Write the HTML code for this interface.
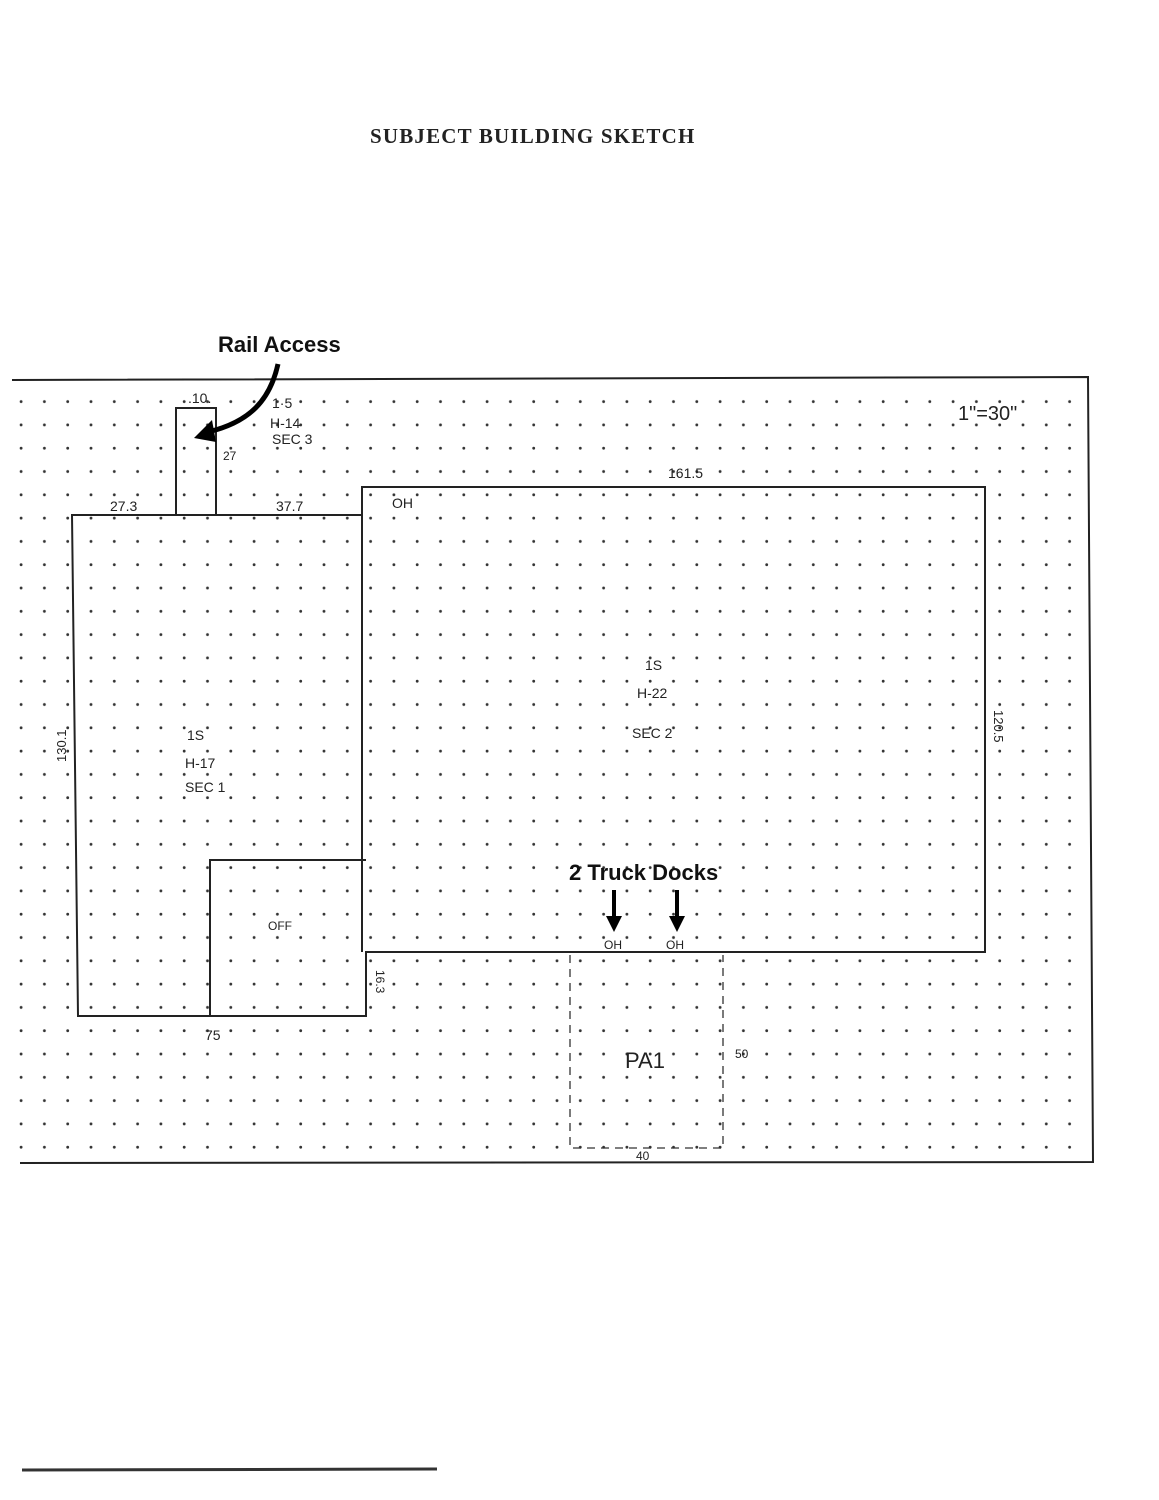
<!DOCTYPE html>
<html><head><style>
body{margin:0;background:#fff}
svg{display:block}
</style></head><body>
<svg width="1159" height="1500" viewBox="0 0 1159 1500" xmlns="http://www.w3.org/2000/svg">
<defs>
<pattern id="d" x="9.5" y="390" width="23.3" height="23.3" patternUnits="userSpaceOnUse">
<circle cx="11.6" cy="11.6" r="1.4" fill="#333"/>
</pattern>
</defs>
<text x="532" y="143" text-anchor="middle" font-family="Liberation Serif" font-weight="bold" font-size="21" letter-spacing="-0.3" textLength="324" fill="#222">SUBJECT BUILDING SKETCH</text>
<rect x="14" y="385" width="1074" height="772" fill="url(#d)"/>
<g fill="none" stroke="#222" stroke-width="2">
<path d="M12 380 L1088 377 L1093 1162 L20 1163"/>
<path d="M176 514 V408 H216 V514"/>
<path d="M72 515 H362 V487 H985 V952 H366 V1016 H78 Z"/>
<path d="M362 515 V952"/>
<path d="M210 1016 V860 H366"/>
</g>
<path d="M570 955 V1148 H723 V955" fill="none" stroke="#333" stroke-width="1.3" stroke-dasharray="8,6"/>
<line x1="22" y1="1470" x2="437" y2="1469" stroke="#333" stroke-width="3"/>
<g font-family="Liberation Sans" font-size="14" fill="#222">
<text x="188" y="403">.10.</text>
<text x="272" y="408">1·5</text>
<text x="270" y="428">H-14</text>
<text x="272" y="444">SEC 3</text>
<text x="223" y="460" font-size="12">27</text>
<text x="110" y="511">27.3</text>
<text x="276" y="511">37.7</text>
<text x="392" y="508">OH</text>
<text x="668" y="478">161.5</text>
<text x="958" y="420" font-size="20">1"=30"</text>
<text x="645" y="670">1S</text>
<text x="637" y="698">H-22</text>
<text x="632" y="738">SEC 2</text>
<text x="187" y="740">1S</text>
<text x="185" y="768">H-17</text>
<text x="185" y="792">SEC 1</text>
<text x="268" y="930" font-size="12">OFF</text>
<text x="205" y="1040">75</text>
<text x="604" y="949" font-size="12">OH</text>
<text x="666" y="949" font-size="12">OH</text>
<text x="625" y="1068" font-size="22">PA1</text>
<text x="735" y="1058" font-size="12">50</text>
<text x="636" y="1160" font-size="12">40</text>
<text transform="translate(66,762) rotate(-90)" font-size="13">130.1</text>
<text transform="translate(994,710) rotate(90)" font-size="13">120.5</text>
<text transform="translate(376,970) rotate(90)" font-size="12">16.3</text>
</g>
<g font-family="Liberation Sans" font-weight="bold" font-size="22" fill="#111">
<text x="218" y="352">Rail Access</text>
<text x="569" y="880">2 Truck Docks</text>
</g>
<path d="M278 364 C270 400 250 422 208 432" fill="none" stroke="#000" stroke-width="5"/>
<polygon points="194,438 212,420 216,442" fill="#000"/>
<g stroke="#000" stroke-width="4"><line x1="614" y1="890" x2="614" y2="918"/><line x1="677" y1="890" x2="677" y2="918"/></g>
<polygon points="606,916 622,916 614,932" fill="#000"/>
<polygon points="669,916 685,916 677,932" fill="#000"/>
</svg>
</body></html>
